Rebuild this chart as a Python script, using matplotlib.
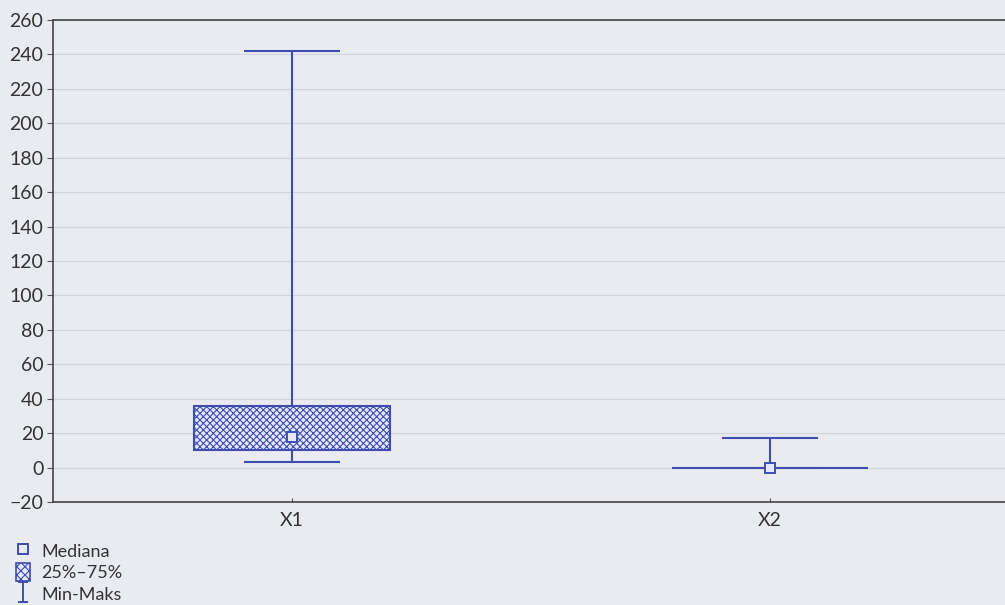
import matplotlib
matplotlib.use("Agg")
import matplotlib.pyplot as plt
from matplotlib.lines import Line2D
from matplotlib.patches import Patch
from matplotlib.path import Path

# Summary statistics per variable
categories = ["X1", "X2"]
mins = [3, 0]
q1 = [10, 0]
medians = [18, 0]
q3 = [36, 0]
maxs = [242, 17]

y_ticks = list(range(-20, 261, 20))

plt.rcParams["font.family"] = ["Lato", "DejaVu Sans"]

bg = "#e9ebf0"
blue = "#3f4db3"
fill = "#e4e9f8"
text_col = "#333333"

fig = plt.figure(figsize=(10.05, 6.05), dpi=100, facecolor=bg)
ax = fig.add_axes([53 / 1005, 1 - 502 / 605, 956 / 1005, 482 / 605])
ax.set_facecolor(bg)

positions = [i + 0.5 for i in range(len(categories))]
box_w = 0.41
cap_w = 0.2

# grid
ax.set_ylim(-20, 260)
ax.set_xlim(0, len(categories))
ax.set_yticks(y_ticks)
ax.yaxis.grid(True, color="#d2d5df", linewidth=0.9)
ax.set_axisbelow(True)

# whiskers and caps
ax.vlines(positions, q3, maxs, color=blue, linewidth=1.5, zorder=2)
ax.vlines(positions, mins, q1, color=blue, linewidth=1.5, zorder=2)
ax.hlines(maxs, [p - cap_w / 2 for p in positions], [p + cap_w / 2 for p in positions],
          color=blue, linewidth=1.5, zorder=2)
ax.hlines(mins, [p - cap_w / 2 for p in positions], [p + cap_w / 2 for p in positions],
          color=blue, linewidth=1.5, zorder=2)

# interquartile boxes
plt.rcParams["hatch.color"] = "#6a82dc"
plt.rcParams["hatch.linewidth"] = 0.8
heights = [b - a for a, b in zip(q1, q3)]
ax.bar(positions, heights, bottom=q1, width=box_w, facecolor=fill,
       edgecolor=blue, linewidth=1.5, hatch="xxxxx", zorder=3)

# medians
ax.plot(positions, medians, linestyle="none", marker="s", markersize=7,
        markerfacecolor=fill, markeredgecolor=blue, markeredgewidth=1.4, zorder=4)

ax.set_xticks(positions)
ax.set_xticklabels(categories)
ax.tick_params(axis="y", direction="out", length=4, color="#555555",
               labelsize=14, labelcolor=text_col, pad=3)
ax.tick_params(axis="x", direction="in", length=3, color="#555555",
               labelsize=14, labelcolor=text_col, pad=7)
for side in ["left", "bottom", "top"]:
    ax.spines[side].set_color("#444444")
    ax.spines[side].set_linewidth(1.2)
ax.spines["right"].set_visible(False)

# legend with an I-beam symbol for the range
ibeam = Path([(-0.5, 1), (0.5, 1), (0, 1), (0, -1), (-0.5, -1), (0.5, -1)],
             [Path.MOVETO, Path.LINETO, Path.MOVETO, Path.LINETO, Path.MOVETO, Path.LINETO])
handles = [
    Line2D([], [], linestyle="none", marker="s", markersize=7,
           markerfacecolor=fill, markeredgecolor=blue, markeredgewidth=1.4),
    Patch(facecolor=fill, edgecolor=blue, hatch="xxxx", linewidth=1.2),
    Line2D([], [], linestyle="none", marker=ibeam, markersize=15,
           markeredgecolor=blue, markeredgewidth=1.4),
]
labels = ["Mediana", "25%\u201375%", "Min-Maks"]
leg = fig.legend(handles, labels, loc="upper left", bbox_to_anchor=(0.003, 0.125),
                 frameon=False, fontsize=13, handlelength=0.8, handleheight=1.1,
                 handletextpad=0.6, labelspacing=0.2, borderpad=0.2)
for t in leg.get_texts():
    t.set_color(text_col)

fig.savefig("out.png", dpi=100, facecolor=bg)
